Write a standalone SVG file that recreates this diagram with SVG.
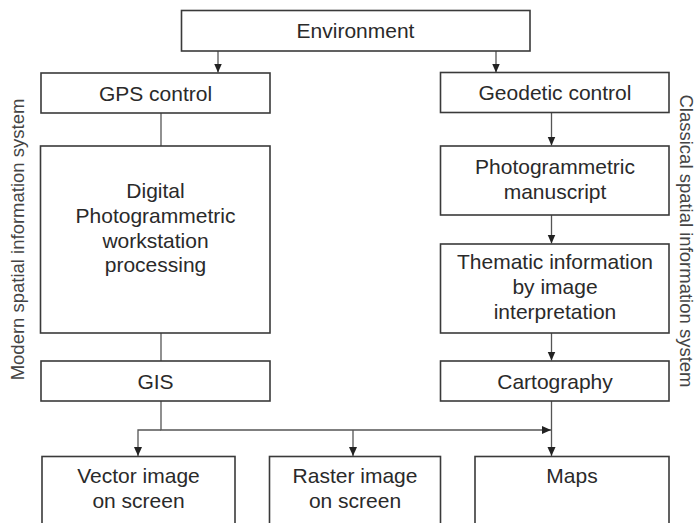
<svg xmlns="http://www.w3.org/2000/svg" width="695" height="523" viewBox="0 0 695 523">
<style>
.box{fill:#fff;stroke:#3a3a3a;stroke-width:1.6}
.t{font-family:"Liberation Sans",Arial,sans-serif;font-size:21px;fill:#2a2a2a;text-anchor:middle}
.side{font-family:"Liberation Sans",Arial,sans-serif;font-size:18.5px;fill:#444;text-anchor:middle}
.c{fill:none;stroke:#555;stroke-width:1.3}
</style>
<defs>
<marker id="ah" markerUnits="userSpaceOnUse" markerWidth="10" markerHeight="9" refX="9" refY="4" orient="auto">
<path d="M0,0 L9,4 L0,8 z" fill="#222"/>
</marker>
</defs>
<rect width="695" height="523" fill="#fff"/>
<g id="connectors">
<line class="c" x1="218" y1="51" x2="218" y2="72.5" marker-end="url(#ah)"/>
<line class="c" x1="496" y1="51" x2="496" y2="72.5" marker-end="url(#ah)"/>
<line class="c" x1="161" y1="113" x2="161" y2="146"/>
<line class="c" x1="551.5" y1="112" x2="551.5" y2="145.5" marker-end="url(#ah)"/>
<line class="c" x1="551.5" y1="215" x2="551.5" y2="243.5" marker-end="url(#ah)"/>
<line class="c" x1="551.5" y1="333" x2="551.5" y2="360.5" marker-end="url(#ah)"/>
<line class="c" x1="161" y1="333" x2="161" y2="361"/>
<polyline class="c" points="161,401 161,430 551,430" marker-end="url(#ah)"/>
<polyline class="c" points="161,430 138,430 138,456" marker-end="url(#ah)"/>
<line class="c" x1="353" y1="430" x2="353" y2="456" marker-end="url(#ah)"/>
<line class="c" x1="551.5" y1="401" x2="551.5" y2="456" marker-end="url(#ah)"/>
</g>
<g id="environment">
<rect class="box" x="181.5" y="10.5" width="348.5" height="40.5"/>
<text class="t" x="355.5" y="38">Environment</text>
</g>
<g id="gps">
<rect class="box" x="41" y="73" width="229" height="40"/>
<text class="t" x="155.5" y="100.5">GPS control</text>
</g>
<g id="geodetic">
<rect class="box" x="440.5" y="72.5" width="228.5" height="40"/>
<text class="t" x="555" y="100">Geodetic control</text>
</g>
<g id="digital">
<rect class="box" x="40.5" y="146" width="229.5" height="187"/>
<text class="t" x="155.5" y="198">Digital</text>
<text class="t" x="155.5" y="222.5">Photogrammetric</text>
<text class="t" x="155.5" y="247.5">workstation</text>
<text class="t" x="155.5" y="272">processing</text>
</g>
<g id="photomanuscript">
<rect class="box" x="440.5" y="146" width="228.5" height="69"/>
<text class="t" x="555" y="174">Photogrammetric</text>
<text class="t" x="555" y="198.5">manuscript</text>
</g>
<g id="thematic">
<rect class="box" x="440.5" y="244" width="228.5" height="89"/>
<text class="t" x="555" y="269">Thematic information</text>
<text class="t" x="555" y="294">by image</text>
<text class="t" x="555" y="319">interpretation</text>
</g>
<g id="gis">
<rect class="box" x="41" y="361" width="229" height="40"/>
<text class="t" x="155.5" y="388.5">GIS</text>
</g>
<g id="cartography">
<rect class="box" x="440.5" y="361" width="228.5" height="40"/>
<text class="t" x="555" y="388.5">Cartography</text>
</g>
<g id="vector">
<rect class="box" x="42" y="456.5" width="193" height="80"/>
<text class="t" x="138.5" y="483">Vector image</text>
<text class="t" x="138.5" y="507.5">on screen</text>
</g>
<g id="raster">
<rect class="box" x="269.5" y="456.5" width="171" height="80"/>
<text class="t" x="355" y="483">Raster image</text>
<text class="t" x="355" y="507.5">on screen</text>
</g>
<g id="maps">
<rect class="box" x="475" y="456.5" width="194" height="80"/>
<text class="t" x="572" y="483">Maps</text>
</g>
<g id="labels">
<text class="side" transform="translate(23.5,239.5) rotate(-90)">Modern spatial information system</text>
<text class="side" transform="translate(679.5,241) rotate(90)">Classical spatial information system</text>
</g>
</svg>
